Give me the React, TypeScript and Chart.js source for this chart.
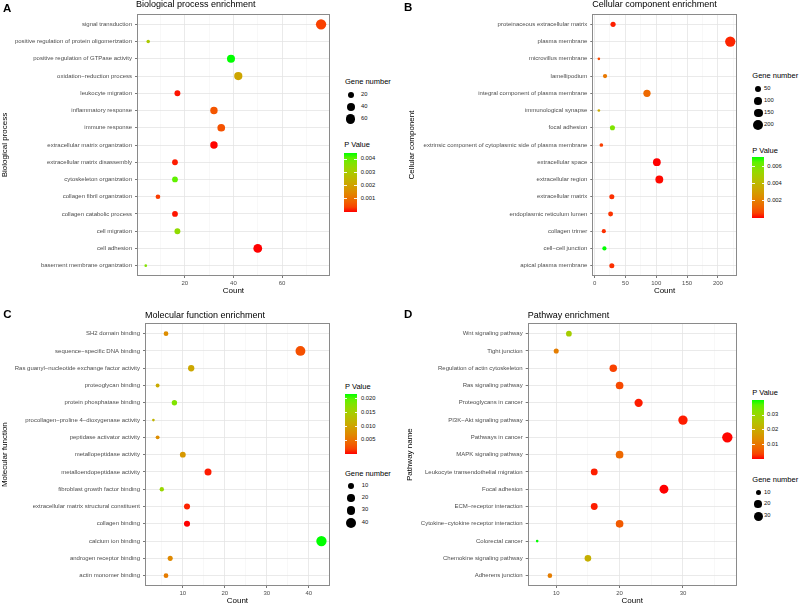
import React, { useEffect, useRef } from "react";
import { Chart, registerables } from "chart.js";
Chart.register(...registerables);

const FONT = '"Liberation Sans", Arial, Helvetica, sans-serif';
Chart.defaults.font.family = FONT;

// ---------- Data ----------
const bpTerms = [
  "signal transduction",
  "positive regulation of protein oligomerization",
  "positive regulation of GTPase activity",
  "oxidation\u2212reduction process",
  "leukocyte migration",
  "inflammatory response",
  "immune response",
  "extracellular matrix organization",
  "extracellular matrix disassembly",
  "cytoskeleton organization",
  "collagen fibril organization",
  "collagen catabolic process",
  "cell migration",
  "cell adhesion",
  "basement membrane organization",
];
const bpCounts = [76, 5, 39, 42, 17, 32, 35, 32, 16, 16, 9, 16, 17, 50, 4];
const bpPValues = [0.00035, 0.003, 0.0045, 0.0021, 0.00005, 0.0006, 0.00055, 0.00001, 0.00008, 0.0041, 0.0003, 0.00005, 0.0035, 0.000001, 0.0037];
const bpCountStep = 20;
const bpSizeBreaks = [20, 40, 60];
const bpPBreaks = [0.001, 0.002, 0.003, 0.004];

const ccTerms = [
  "proteinaceous extracellular matrix",
  "plasma membrane",
  "microvillus membrane",
  "lamellipodium",
  "integral component of plasma membrane",
  "immunological synapse",
  "focal adhesion",
  "extrinsic component of cytoplasmic side of plasma membrane",
  "extracellular space",
  "extracellular region",
  "extracellular matrix",
  "endoplasmic reticulum lumen",
  "collagen trimer",
  "cell\u2212cell junction",
  "apical plasma membrane",
];
const ccCounts = [30, 220, 7, 17, 85, 7, 29, 11, 101, 105, 28, 26, 15, 16, 28];
const ccPValues = [0.00015, 0.0002, 0.0007, 0.0018, 0.0014, 0.0035, 0.0059, 0.0005, 0.0000001, 0.00003, 0.0003, 0.00035, 0.0003, 0.00706, 0.0003];
const ccCountStep = 50;
const ccSizeBreaks = [50, 100, 150, 200];
const ccPBreaks = [0.002, 0.004, 0.006];

const mfTerms = [
  "SH2 domain binding",
  "sequence\u2212specific DNA binding",
  "Ras guanyl\u2212nucleotide exchange factor activity",
  "proteoglycan binding",
  "protein phosphatase binding",
  "procollagen\u2212proline 4\u2212dioxygenase activity",
  "peptidase activator activity",
  "metallopeptidase activity",
  "metalloendopeptidase activity",
  "fibroblast growth factor binding",
  "extracellular matrix structural constituent",
  "collagen binding",
  "calcium ion binding",
  "androgen receptor binding",
  "actin monomer binding",
];
const mfCounts = [6, 38, 12, 4, 8, 3, 4, 10, 16, 5, 11, 11, 43, 7, 6];
const mfPValues = [0.0076, 0.0026, 0.0104, 0.0108, 0.018, 0.012, 0.0076, 0.0087, 0.0004, 0.0163, 0.0006, 0.00005, 0.0217, 0.0072, 0.006];
const mfCountStep = 10;
const mfSizeBreaks = [10, 20, 30, 40];
const mfPBreaks = [0.005, 0.01, 0.015, 0.02];

const kpTerms = [
  "Wnt signaling pathway",
  "Tight junction",
  "Regulation of actin cytoskeleton",
  "Ras signaling pathway",
  "Proteoglycans in cancer",
  "PI3K\u2212Akt signaling pathway",
  "Pathways in cancer",
  "MAPK signaling pathway",
  "Leukocyte transendothelial migration",
  "Focal adhesion",
  "ECM\u2212receptor interaction",
  "Cytokine\u2212cytokine receptor interaction",
  "Colorectal cancer",
  "Chemokine signaling pathway",
  "Adherens junction",
];
const kpCounts = [12, 10, 19, 20, 23, 30, 37, 20, 16, 27, 16, 20, 7, 15, 9];
const kpPValues = [0.028, 0.0113, 0.0032, 0.004, 0.0008, 0.0008, 0.0002, 0.008, 0.0009, 0.0001, 0.0009, 0.006, 0.0403, 0.021, 0.0113];
const kpCountStep = 10;
const kpSizeBreaks = [10, 20, 30];
const kpPBreaks = [0.01, 0.02, 0.03];

// ---------- Colour (Lab interpolation red -> green) ----------
function toLin(c: number) {
  c /= 255;
  return c <= 0.04045 ? c / 12.92 : Math.pow((c + 0.055) / 1.055, 2.4);
}
function rgbToLab(rgb: number[]) {
  const [r, g, b] = rgb.map(toLin);
  const X = (0.4124564 * r + 0.3575761 * g + 0.1804375 * b) / 0.95047;
  const Y = 0.2126729 * r + 0.7151522 * g + 0.072175 * b;
  const Z = (0.0193339 * r + 0.119192 * g + 0.9503041 * b) / 1.08883;
  const f = (t: number) => (t > 0.008856 ? Math.cbrt(t) : 7.787 * t + 16 / 116);
  const fx = f(X), fy = f(Y), fz = f(Z);
  return [116 * fy - 16, 500 * (fx - fy), 200 * (fy - fz)];
}
function labToRgb(lab: number[]) {
  const [L, a, b] = lab;
  const fy = (L + 16) / 116;
  const fx = fy + a / 500;
  const fz = fy - b / 200;
  const inv = (t: number) => (t * t * t > 0.008856 ? t * t * t : (t - 16 / 116) / 7.787);
  const X = 0.95047 * inv(fx), Y = inv(fy), Z = 1.08883 * inv(fz);
  const rl = 3.2404542 * X - 1.5371385 * Y - 0.4985314 * Z;
  const gl = -0.969266 * X + 1.8760108 * Y + 0.041556 * Z;
  const bl = 0.0556434 * X - 0.2040259 * Y + 1.0572252 * Z;
  const g = (v: number) => {
    v = Math.max(0, Math.min(1, v));
    const s = v <= 0.0031308 ? 12.92 * v : 1.055 * Math.pow(v, 1 / 2.4) - 0.055;
    return Math.round(Math.max(0, Math.min(1, s)) * 255);
  };
  return [g(rl), g(gl), g(bl)];
}
const LAB_LOW = rgbToLab([255, 0, 0]);
const LAB_HIGH = rgbToLab([0, 255, 0]);
function gradColor(t: number) {
  t = Math.max(0, Math.min(1, t));
  const lab = LAB_LOW.map((v, i) => v + (LAB_HIGH[i] - v) * t);
  const [r, g, b] = labToRgb(lab);
  return `rgb(${r},${g},${b})`;
}
function radiusFor(count: number, min: number, max: number) {
  const t = Math.max(0, (count - min) / (max - min));
  const size = 1 + 5 * Math.sqrt(t);
  return 0.3 + 0.27 * (2.845 * size + 0.94);
}

// ---------- Panels ----------
type Panel = {
  letter: string;
  title: string;
  yTitle: string;
  terms: string[];
  counts: number[];
  pvals: number[];
  step: number;
  sizeBreaks: number[];
  pBreaks: number[];
  pDigits: number;
  sizeFirst: boolean;
  // layout
  cx: number; cy: number; cw: number; ch: number;
  padTop: number; padRight: number; yAxisW: number; xAxisH: number;
  xTitlePad: number; yTitlePad: number;
  letterX: number; letterBase: number;
  titleX: number; titleBase: number;
  sizeTitleX: number; sizeTitleBase: number; circX: number; circYs: number[]; sizeLabX: number;
  pTitleX: number; pTitleBase: number; barX: number; barY: number; barW: number; barH: number; pLabX: number;
};

const panels: Panel[] = [
  {
    letter: "A", title: "Biological process enrichment", yTitle: "Biological process",
    terms: bpTerms, counts: bpCounts, pvals: bpPValues, step: bpCountStep,
    sizeBreaks: bpSizeBreaks, pBreaks: bpPBreaks, pDigits: 3, sizeFirst: true,
    cx: 0, cy: 0, cw: 335, ch: 300, padTop: 14, padRight: 2, yAxisW: 137, xAxisH: 24,
    xTitlePad: 4.2, yTitlePad: 0.2,
    letterX: 3, letterBase: 12.3, titleX: 136, titleBase: 8,
    sizeTitleX: 345, sizeTitleBase: 84.7, circX: 350.7, circYs: [95, 107, 119], sizeLabX: 361,
    pTitleX: 344.3, pTitleBase: 147.3, barX: 344.3, barY: 152.7, barW: 12.4, barH: 59, pLabX: 360.7,
  },
  {
    letter: "B", title: "Cellular component enrichment", yTitle: "Cellular component",
    terms: ccTerms, counts: ccCounts, pvals: ccPValues, step: ccCountStep,
    sizeBreaks: ccSizeBreaks, pBreaks: ccPBreaks, pDigits: 3, sizeFirst: true,
    cx: 400, cy: 0, cw: 342, ch: 300, padTop: 14, padRight: 2, yAxisW: 192.3, xAxisH: 24,
    xTitlePad: 4.5, yTitlePad: 6.9,
    letterX: 404, letterBase: 11.7, titleX: 592.3, titleBase: 8,
    sizeTitleX: 752.3, sizeTitleBase: 78.5, circX: 758.3, circYs: [89.3, 101, 113, 125.3], sizeLabX: 764,
    pTitleX: 752.3, pTitleBase: 153, barX: 752.3, barY: 157.3, barW: 11.7, barH: 60.4, pLabX: 767.3,
  },
  {
    letter: "C", title: "Molecular function enrichment", yTitle: "Molecular function",
    terms: mfTerms, counts: mfCounts, pvals: mfPValues, step: mfCountStep,
    sizeBreaks: mfSizeBreaks, pBreaks: mfPBreaks, pDigits: 3, sizeFirst: false,
    cx: 0, cy: 300, cw: 335, ch: 306, padTop: 23.3, padRight: 1.7, yAxisW: 145, xAxisH: 20,
    xTitlePad: 0, yTitlePad: 0.2,
    letterX: 3.3, letterBase: 318.3, titleX: 145, titleBase: 318.4,
    sizeTitleX: 345, sizeTitleBase: 476.5, circX: 351, circYs: [486.3, 498.3, 510.3, 522.7], sizeLabX: 361.7,
    pTitleX: 345, pTitleBase: 389.3, barX: 345, barY: 394, barW: 12.3, barH: 60, pLabX: 361,
  },
  {
    letter: "D", title: "Pathway enrichment", yTitle: "Pathway name",
    terms: kpTerms, counts: kpCounts, pvals: kpPValues, step: kpCountStep,
    sizeBreaks: kpSizeBreaks, pBreaks: kpPBreaks, pDigits: 2, sizeFirst: false,
    cx: 400, cy: 300, cw: 342, ch: 306, padTop: 23.3, padRight: 2, yAxisW: 127.7, xAxisH: 20,
    xTitlePad: 0, yTitlePad: 5.2,
    letterX: 404, letterBase: 318.3, titleX: 527.7, titleBase: 318.4,
    sizeTitleX: 752.3, sizeTitleBase: 482, circX: 758.3, circYs: [492.7, 504.3, 516.3], sizeLabX: 764,
    pTitleX: 752.3, pTitleBase: 395.5, barX: 752.3, barY: 400, barW: 11.7, barH: 59, pLabX: 767,
  },
];

const framePlugin = {
  id: "frame",
  afterDraw(chart: any) {
    const { left, top, right, bottom } = chart.chartArea;
    const ctx = chart.ctx;
    ctx.save();
    ctx.strokeStyle = "#8a8a8a";
    ctx.lineWidth = 1;
    ctx.strokeRect(Math.round(left) + 0.5, Math.round(top) + 0.5, Math.round(right) - Math.round(left) - 1, Math.round(bottom) - Math.round(top) - 1);
    ctx.restore();
  },
};

function DotPlot({ p }: { p: Panel }) {
  const ref = useRef<HTMLCanvasElement>(null);
  useEffect(() => {
    const cmin = Math.min(...p.counts), cmax = Math.max(...p.counts);
    const span = cmax - cmin;
    const xmin = cmin - 0.05 * span, xmax = cmax + 0.05 * span;
    const pmin = Math.min(...p.pvals), pmax = Math.max(...p.pvals);
    const n = p.terms.length;
    const data = p.terms.map((_, i) => ({ x: p.counts[i], y: i, r: radiusFor(p.counts[i], cmin, cmax) }));
    const colors = p.pvals.map((v) => gradColor((v - pmin) / (pmax - pmin)));
    const minor = p.step / 2;
    const isMajor = (v: number) => Math.abs(v / p.step - Math.round(v / p.step)) < 1e-6;
    const chart = new Chart(ref.current as HTMLCanvasElement, {
      type: "bubble",
      data: {
        datasets: [
          {
            data,
            backgroundColor: colors,
            borderColor: colors,
            borderWidth: 0,
            hoverRadius: 0,
          } as any,
        ],
      },
      options: {
        animation: false,
        responsive: false,
        maintainAspectRatio: false,
        events: [],
        layout: { padding: { top: p.padTop, right: p.padRight, bottom: 0, left: 0 } },
        plugins: { legend: { display: false }, tooltip: { enabled: false }, title: { display: false } },
        scales: {
          x: {
            type: "linear",
            min: xmin,
            max: xmax,
            afterBuildTicks: (s: any) => {
              const ticks: any[] = [];
              for (let k = Math.ceil(xmin / minor); k * minor <= xmax + 1e-9; k++) ticks.push({ value: +(k * minor).toFixed(6) });
              s.ticks = ticks;
            },
            afterFit: (s: any) => {
              s.height = p.xAxisH;
            },
            ticks: {
              autoSkip: false,
              maxRotation: 0,
              minRotation: 0,
              padding: 1.5,
              color: "#4d4d4d",
              font: { family: FONT, size: 6 },
              callback: (v: any) => (isMajor(Number(v)) ? String(Math.round(Number(v))) : ""),
            },
            grid: {
              color: (c: any) => (c.tick && isMajor(c.tick.value) ? "#e4e4e4" : "#f1f1f1"),
              lineWidth: (c: any) => (c.tick && isMajor(c.tick.value) ? 0.8 : 0.5),
              tickLength: 2,
              tickColor: (c: any) => (c.tick && isMajor(c.tick.value) ? "#555" : "rgba(0,0,0,0)"),
            },
            border: { display: false },
            title: {
              display: true,
              text: "Count",
              color: "#000",
              font: { family: FONT, size: 8 },
              padding: { top: 0, bottom: p.xTitlePad },
            },
          },
          y: {
            type: "linear",
            reverse: true,
            min: -0.6,
            max: n - 1 + 0.6,
            afterBuildTicks: (s: any) => {
              s.ticks = p.terms.map((_, i) => ({ value: i }));
            },
            afterFit: (s: any) => {
              s.width = p.yAxisW;
            },
            ticks: {
              autoSkip: false,
              padding: 3,
              color: "#4d4d4d",
              font: { family: FONT, size: 6 },
              callback: (v: any) => p.terms[Number(v)] ?? "",
            },
            grid: { color: "#e4e4e4", lineWidth: 0.8, tickLength: 2, tickColor: "#555" },
            border: { display: false },
            title: {
              display: true,
              text: p.yTitle,
              color: "#000",
              font: { family: FONT, size: 8 },
              padding: { top: p.yTitlePad, bottom: 0 },
            },
          },
        },
      } as any,
      plugins: [framePlugin],
    });
    return () => chart.destroy();
  }, [p]);
  return (
    <canvas
      ref={ref}
      width={p.cw}
      height={p.ch}
      style={{ position: "absolute", left: p.cx, top: p.cy, width: p.cw, height: p.ch }}
    />
  );
}

function Txt({ x, base, size, text, bold, color }: { x: number; base: number; size: number; text: string; bold?: boolean; color?: string }) {
  return (
    <div
      style={{
        position: "absolute",
        left: x,
        top: base - 0.8465 * size,
        fontFamily: FONT,
        fontSize: size,
        lineHeight: `${size}px`,
        fontWeight: bold ? "bold" : "normal",
        color: color || "#000",
        whiteSpace: "nowrap",
      }}
    >
      {text}
    </div>
  );
}

function Legends({ p }: { p: Panel }) {
  const cmin = Math.min(...p.counts), cmax = Math.max(...p.counts);
  const pmin = Math.min(...p.pvals), pmax = Math.max(...p.pvals);
  const stops: string[] = [];
  for (let k = 0; k <= 12; k++) stops.push(`${gradColor(k / 12)} ${((k / 12) * 100).toFixed(1)}%`);
  const yOf = (v: number) => p.barY + p.barH - ((v - pmin) / (pmax - pmin)) * p.barH;
  const labSize = 5.8;
  return (
    <>
      <Txt x={p.letterX} base={p.letterBase} size={11.5} text={p.letter} bold />
      <Txt x={p.titleX} base={p.titleBase} size={9} text={p.title} />
      <Txt x={p.sizeTitleX} base={p.sizeTitleBase} size={7.5} text="Gene number" />
      {p.sizeBreaks.map((b, i) => {
        const r = radiusFor(b, cmin, cmax);
        return (
          <React.Fragment key={"s" + i}>
            <div
              style={{
                position: "absolute",
                left: p.circX - r,
                top: p.circYs[i] - r,
                width: 2 * r,
                height: 2 * r,
                borderRadius: "50%",
                background: "#000",
              }}
            />
            <Txt x={p.sizeLabX} base={p.circYs[i] + 0.36 * labSize} size={labSize} text={String(b)} color="#111" />
          </React.Fragment>
        );
      })}
      <Txt x={p.pTitleX} base={p.pTitleBase} size={7.5} text="P Value" />
      <div
        style={{
          position: "absolute",
          left: p.barX,
          top: p.barY,
          width: p.barW,
          height: p.barH,
          background: `linear-gradient(to top, ${stops.join(", ")})`,
        }}
      />
      {p.pBreaks.map((b, i) => {
        const y = yOf(b);
        return (
          <React.Fragment key={"p" + i}>
            <div style={{ position: "absolute", left: p.barX, top: y - 0.5, width: p.barW / 5, height: 1, background: "rgba(255,255,255,0.9)" }} />
            <div style={{ position: "absolute", left: p.barX + p.barW - p.barW / 5, top: y - 0.5, width: p.barW / 5, height: 1, background: "rgba(255,255,255,0.9)" }} />
            <Txt x={p.pLabX} base={y + 0.36 * labSize} size={labSize} text={b.toFixed(p.pDigits)} color="#111" />
          </React.Fragment>
        );
      })}
    </>
  );
}

export default function App() {
  return (
    <div style={{ position: "absolute", left: 0, top: 0, width: 800, height: 606, background: "#fff", overflow: "hidden" }}>
      {panels.map((p) => (
        <React.Fragment key={p.letter}>
          <DotPlot p={p} />
          <Legends p={p} />
        </React.Fragment>
      ))}
    </div>
  );
}
